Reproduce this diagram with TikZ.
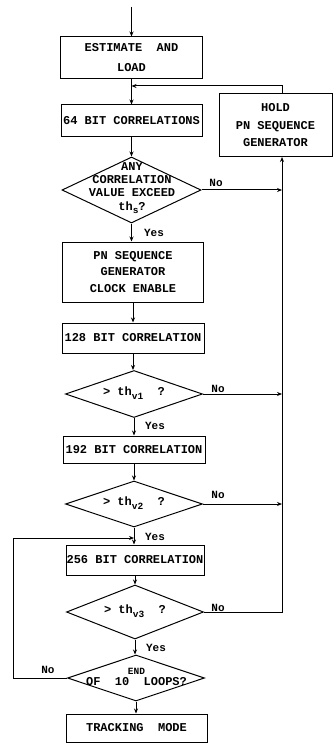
\documentclass[tikz,border=0pt]{standalone}
\usepackage{fontspec}
\setmonofont{Liberation Mono}
\usetikzlibrary{shapes.geometric,arrows.meta}
\newcommand\sbs[1]{\raisebox{-3.5pt}{\fontsize{9.5}{9.5}\selectfont #1}}
\begin{document}
\begin{tikzpicture}[x=1pt,y=-1pt,
  every node/.style={font=\ttfamily\bfseries\fontsize{12}{13}\selectfont},
  box/.style={draw, line width=1pt, inner sep=0pt, align=center},
  dia/.style={draw, diamond, line width=1pt, inner sep=0pt},
  txt/.style={inner sep=0pt, align=center},
  lbl/.style={inner sep=0pt, font=\ttfamily\bfseries\fontsize{11}{11}\selectfont},
  line/.style={line width=1pt},
  arr/.style={line width=1pt, -{Stealth[length=5pt,width=4pt]}}]
\useasboundingbox (0,0) rectangle (334,743);

% nodes
\node[box, minimum width=142pt, minimum height=42pt] (est) at (131.5,58) {ESTIMATE\ \ AND\\[7pt]LOAD};
\node[box, minimum width=141pt, minimum height=32pt] (c64) at (131.5,121) {64 BIT CORRELATIONS};
\node[box, minimum width=113pt, minimum height=63pt] (hold) at (275.5,125.5) {HOLD\\[4.5pt]PN SEQUENCE\\[4.5pt]GENERATOR};
\node[dia, minimum width=139pt, minimum height=66pt] (d1) at (131.5,190) {};
\node[txt, font=\ttfamily\bfseries\fontsize{12}{13.3}\selectfont] (d1t) at (132,188) {ANY\\CORRELATION\\VALUE EXCEED\\th\sbs{s}?};
\node[box, minimum width=141pt, minimum height=60pt] (pn) at (133,272) {PN SEQUENCE\\[3.5pt]GENERATOR\\[3.5pt]CLOCK ENABLE};
\node[box, minimum width=142pt, minimum height=30pt] (c128) at (133,338) {128 BIT CORRELATION};
\node[dia, minimum width=137pt, minimum height=47pt] (dv1) at (134,394) {};
\node[txt] (dv1t) at (134,393) {>\ th\sbs{v1}\ \ ?};
\node[box, minimum width=142pt, minimum height=27pt] (c192) at (134,449.5) {192 BIT CORRELATION};
\node[dia, minimum width=137pt, minimum height=46pt] (dv2) at (134,504) {};
\node[txt] (dv2t) at (134,503) {>\ th\sbs{v2}\ \ ?};
\node[box, minimum width=138pt, minimum height=30pt] (c256) at (135,560) {256 BIT CORRELATION};
\node[dia, minimum width=137pt, minimum height=54pt] (dv3) at (135,612) {};
\node[txt] (dv3t) at (135,611) {>\ th\sbs{v3}\ \ ?};
\node[dia, minimum width=137pt, minimum height=46pt] (dend) at (136,678) {};
\node[txt] (dendt) at (136.5,677) {{\fontsize{9.5}{9.5}\selectfont END}\\[-2pt]OF\ \ 10\ \ LOOPS?};
\node[box, minimum width=141pt, minimum height=28pt] (track) at (136.5,728) {TRACKING\ \ MODE};

% coordinates
\coordinate (top) at (131.5,7);
\coordinate (join) at (131.5,86);
\coordinate (vr) at (282,157);
\coordinate (loopj) at (134,538);
\coordinate (lc) at (13,538);

% main flow
\draw[arr] (top) -- (est.north);
\draw[arr] (est.south) -- (c64.north);
\draw[arr] (hold.north -| vr) |- (join);
\draw[arr] (c64.south) -- (d1.north);
\draw[arr] (d1.south) -- (d1.south |- pn.north);
\draw[arr] (pn.south) -- (pn.south |- c128.north);
\draw[arr] (c128.south) -- (c128.south |- dv1.north);
\draw[arr] (dv1.south) -- (c192.north);
\draw[arr] (c192.south) -- (dv2.north);
\draw[arr] (dv2.south) -- (dv2.south |- c256.north);
\draw[arr] (c256.south) -- (dv3.north);
\draw[arr] (dv3.south) -- (dv3.south |- dend.north);
\draw[arr] (dend.south) -- (dend.south |- track.north);

% No branches
\draw[arr] (d1.east) -- (d1.east -| vr);
\draw[arr] (dv1.east) -- (dv1.east -| vr);
\draw[arr] (dv2.east) -- (dv2.east -| vr);
\draw[arr] (dv3.east) -| (vr);
\draw[arr] (dend.west) -| (lc) -- (loopj);

% labels
\node[lbl] (n1) at (216,183) {No};
\node[lbl] (n2) at (218,389) {No};
\node[lbl] (n3) at (218,495) {No};
\node[lbl] (n4) at (218,608) {No};
\node[lbl] (n5) at (48,670) {No};
\node[lbl] (y1) at (154,233) {Yes};
\node[lbl] (y2) at (155,426) {Yes};
\node[lbl] (y3) at (155,537) {Yes};
\node[lbl] (y4) at (156,648) {Yes};
\end{tikzpicture}
\end{document}
